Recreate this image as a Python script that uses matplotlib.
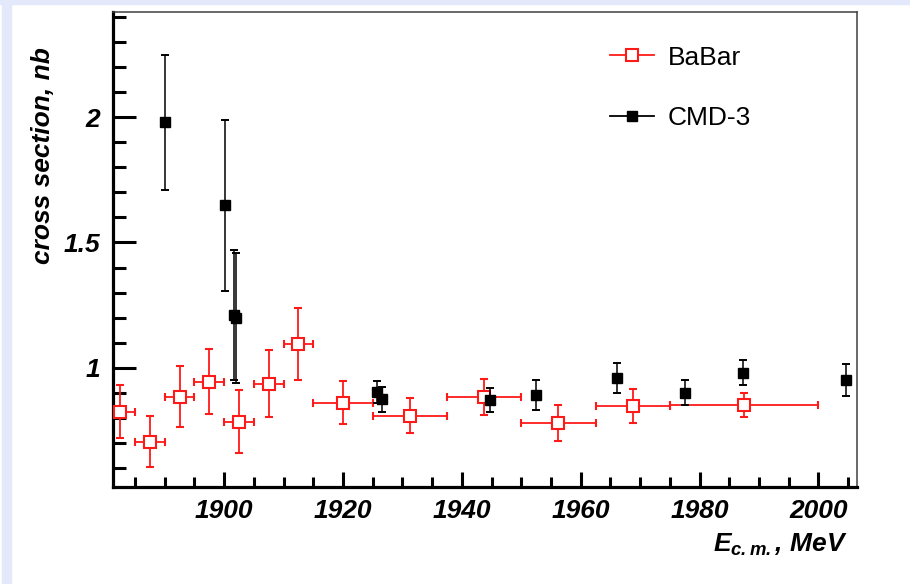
import matplotlib
matplotlib.use("Agg")
import matplotlib.pyplot as plt
from matplotlib.lines import Line2D
from matplotlib.ticker import MultipleLocator

plt.rcParams["font.family"] = ["Liberation Sans", "DejaVu Sans"]
plt.rcParams["mathtext.fontset"] = "custom"
plt.rcParams["mathtext.rm"] = "Liberation Sans:bold:italic"
plt.rcParams["mathtext.it"] = "Liberation Sans:bold:italic"

# BaBar: bin centres, half widths, cross section and errors
babar_x = [1882.5, 1887.5, 1892.5, 1897.5, 1902.5, 1907.5, 1912.5,
           1920.0, 1931.25, 1943.75, 1956.25, 1968.75, 1987.5]
babar_xerr = [2.5, 2.5, 2.5, 2.5, 2.5, 2.5, 2.5,
              5.0, 6.25, 6.25, 6.25, 6.25, 12.5]
babar_y = [0.825, 0.705, 0.885, 0.945, 0.785, 0.937, 1.095,
           0.861, 0.808, 0.884, 0.781, 0.848, 0.852]
babar_yerr = [0.107, 0.103, 0.120, 0.129, 0.126, 0.132, 0.143,
              0.086, 0.070, 0.071, 0.072, 0.068, 0.049]

# CMD-3 points
cmd_x = [1890.0, 1900.2, 1901.6, 1902.0, 1925.8, 1926.5,
         1944.8, 1952.5, 1966.1, 1977.6, 1987.3, 2004.7]
cmd_y = [1.98, 1.648, 1.21, 1.20, 0.904, 0.875,
         0.871, 0.891, 0.959, 0.901, 0.981, 0.951]
cmd_yerr = [0.27, 0.34, 0.26, 0.26, 0.045, 0.05,
            0.048, 0.061, 0.061, 0.05, 0.05, 0.062]

red = "#ff1a1a"

fig = plt.figure(figsize=(9.1, 5.84), dpi=100)
fig.patch.set_facecolor("white")
# light blue frame strips on the left and top
fig.patches.append(plt.Rectangle((2 / 910, 0), 9 / 910, 1, transform=fig.transFigure,
                                 color="#e3e9fb", zorder=0))
fig.patches.append(plt.Rectangle((0, 1 - 4 / 584), 1, 4 / 584, transform=fig.transFigure,
                                 color="#e3e9fb", zorder=0))

ax = fig.add_axes([113 / 910, 1 - 487 / 584, 744 / 910, 475 / 584])

ax.errorbar(babar_x, babar_y, xerr=babar_xerr, yerr=babar_yerr, fmt="s",
            color=red, ecolor=red, mfc="white", mec=red, mew=1.5, ms=8,
            elinewidth=1.3, capsize=2.8, capthick=1.5, zorder=3)
ax.errorbar(cmd_x, cmd_y, yerr=cmd_yerr, fmt="s", color="black",
            ms=6.8, elinewidth=1.1, capsize=2.6, capthick=1.4, zorder=4)

ax.set_xlim(1881.3, 2006.5)
ax.set_ylim(0.524, 2.42)

ax.xaxis.set_major_locator(MultipleLocator(20))
ax.xaxis.set_minor_locator(MultipleLocator(5))
ax.yaxis.set_major_locator(MultipleLocator(0.5))
ax.yaxis.set_minor_locator(MultipleLocator(0.1))
ax.yaxis.set_major_formatter(plt.FuncFormatter(lambda v, p: f"{v:g}"))

for side in ("left", "bottom"):
    ax.spines[side].set_linewidth(2.3)
for side in ("top", "right"):
    ax.spines[side].set_linewidth(1.1)
    ax.spines[side].set_color("#404040")

ax.tick_params(axis="x", which="major", direction="in", length=11, width=2.2, pad=9)
ax.tick_params(axis="x", which="minor", direction="in", length=7, width=2.2)
ax.tick_params(axis="y", which="major", direction="in", length=16.5, width=2.2, pad=9)
ax.tick_params(axis="y", which="minor", direction="in", length=9.4, width=2.2)
for lab in ax.get_xticklabels() + ax.get_yticklabels():
    lab.set_fontsize(19)
    lab.set_fontstyle("italic")
    lab.set_fontweight("bold")

fig.text(43 / 910, 1 - 47 / 584, "cross section, nb", rotation=90, ha="center",
         va="top", fontsize=19, fontstyle="italic", fontweight="bold")
fig.text(848 / 910, 1 - 552 / 584, r"$E_{c.m.}$, MeV", ha="right", va="baseline",
         fontsize=19, fontstyle="italic", fontweight="bold")

handles = [
    Line2D([], [], color=red, lw=1.3, marker="s", ms=8, mfc="white", mec=red, mew=1.5),
    Line2D([], [], color="black", lw=1.3, marker="s", ms=6.8),
]
ax.legend(handles, ["BaBar", "CMD-3"], loc="upper left", bbox_to_anchor=(0.668, 0.929),
          frameon=False, fontsize=19, borderpad=0, borderaxespad=0, handlelength=1.67,
          handletextpad=0.53, labelspacing=1.38)

fig.savefig("out.png", dpi=100)
